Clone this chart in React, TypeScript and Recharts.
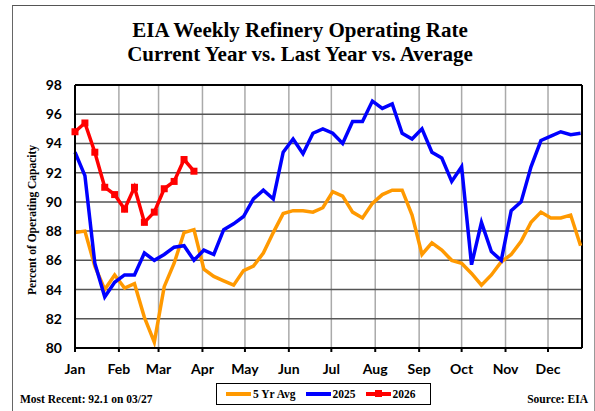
import React from 'react';
import {
  LineChart,
  Line,
  XAxis,
  YAxis,
  CartesianGrid,
  ReferenceLine
} from 'recharts';

// weekly values, week 1 starts at day 0
const avg5 = [
  87.9, 88.0, 85.6, 84.0, 85.0, 84.1, 84.4, 82.1, 80.4, 84.2,
  85.8, 87.9, 88.1, 85.4, 84.9, 84.6, 84.3, 85.3, 85.6, 86.5,
  87.9, 89.2, 89.4, 89.4, 89.3, 89.6, 90.7, 90.4, 89.3, 88.9,
  89.9, 90.5, 90.8, 90.8, 89.1, 86.4, 87.2, 86.7, 86.0, 85.8,
  85.1, 84.3, 85.0, 85.9, 86.4, 87.3, 88.6, 89.3, 88.9, 88.9,
  89.1, 87.0
];
const y2025 = [
  93.4, 91.8, 85.8, 83.5, 84.5, 85.0, 85.0, 86.5, 86.0, 86.4,
  86.9, 87.0, 86.0, 86.7, 86.4, 88.1, 88.5, 89.0, 90.2, 90.8,
  90.2, 93.4, 94.3, 93.3, 94.7, 95.0, 94.7, 94.0, 95.5, 95.5,
  96.9, 96.4, 96.7, 94.7, 94.3, 95.0, 93.4, 93.0, 91.4, 92.4,
  85.7, 88.6, 86.6, 86.0, 89.4, 90.0, 92.4, 94.2, 94.5, 94.8,
  94.6, 94.7
];
const y2026 = [94.8, 95.4, 93.4, 91.0, 90.5, 89.5, 91.0, 88.6, 89.3, 90.9, 91.4, 92.9, 92.1];

const months = ['Jan', 'Feb', 'Mar', 'Apr', 'May', 'Jun', 'Jul', 'Aug', 'Sep', 'Oct', 'Nov', 'Dec'];
const monthStarts = [0, 31, 59, 90, 120, 151, 181, 212, 243, 273, 304, 334];
const yTicks = [80, 82, 84, 86, 88, 90, 92, 94, 96, 98];

const data = avg5.map((v, i) => ({
  day: i * 7,
  avg: v,
  y2025: y2025[i],
  y2026: i < y2026.length ? y2026[i] : null
}));

const serif = '"Liberation Serif", "Times New Roman", serif';
const sans = 'Lato, "Open Sans", sans-serif';

const SquareDot = (props: any) => {
  const { cx, cy, index } = props;
  if (cx == null || cy == null) return <g key={index} />;
  return <rect key={index} x={cx - 3.5} y={cy - 3.5} width={7} height={7} fill="#FF0000" />;
};

const monthLabel = (v: number) => months[monthStarts.indexOf(v)] ?? '';

export default function App() {
  return (
    <div style={{ position: 'absolute', left: 0, top: 0, width: 595, height: 411, background: '#fff', overflow: 'hidden' }}>
      <div style={{ position: 'absolute', left: 12, top: 5, width: 581, height: 420, borderLeft: '1.5px solid #666', borderTop: '1.5px solid #555', borderRight: '1px solid #999' }} />
      <div style={{ position: 'absolute', left: 0, top: 18, width: 600, textAlign: 'center', fontFamily: serif, fontWeight: 'bold', fontSize: 21, lineHeight: '24px', color: '#000' }}>
        EIA Weekly Refinery Operating Rate<br />Current Year vs. Last Year vs. Average
      </div>
      <div style={{ position: 'absolute', left: 32, top: 220, width: 0, height: 0 }}>
        <div style={{ position: 'absolute', left: -100, top: -7, width: 200, textAlign: 'center', transform: 'rotate(-90deg)', fontFamily: serif, fontWeight: 'bold', fontSize: 11.5, lineHeight: '14px', whiteSpace: 'nowrap' }}>
          Percent of Operating Capacity
        </div>
      </div>
      <LineChart width={595} height={411} data={data} margin={{ top: 85, right: 13, bottom: 33, left: 0 }}>
        <CartesianGrid vertical={true} horizontal={false} stroke="#aaaaaa" strokeWidth={1.5} />
        <CartesianGrid vertical={false} horizontal={true} stroke="#555555" strokeWidth={1.5} />
        <XAxis
          dataKey="day"
          type="number"
          domain={[0, 358]}
          ticks={monthStarts}
          tickFormatter={monthLabel}
          interval={0}
          height={30}
          axisLine={{ stroke: '#000', strokeWidth: 2 }}
          tickLine={{ stroke: '#000', strokeWidth: 2 }}
          tickSize={4}
          tickMargin={12}
          tick={{ fill: '#000', fontSize: 14, fontWeight: 'bold', fontFamily: sans }}
        />
        <YAxis
          type="number"
          domain={[80, 98]}
          ticks={yTicks}
          interval={0}
          width={75}
          axisLine={{ stroke: '#000', strokeWidth: 2 }}
          tickLine={false}
          tickSize={0}
          tickMargin={13}
          tick={{ fill: '#000', fontSize: 14, fontWeight: 'bold', fontFamily: sans }}
        />
        <ReferenceLine y={98} stroke="#000" strokeWidth={2} />
        <ReferenceLine x={358} stroke="#000" strokeWidth={2} />
        <Line type="linear" dataKey="avg" name="5 Yr Avg" stroke="#FF9900" strokeWidth={3.5} dot={false} isAnimationActive={false} />
        <Line type="linear" dataKey="y2025" name="2025" stroke="#0000FF" strokeWidth={3.5} dot={false} isAnimationActive={false} />
        <Line type="linear" dataKey="y2026" name="2026" stroke="#FF0000" strokeWidth={3.5} dot={<SquareDot />} isAnimationActive={false} />
      </LineChart>
      <div style={{ position: 'absolute', left: 216, top: 383, width: 215, height: 22, border: '1px solid #000', boxSizing: 'border-box', display: 'flex', alignItems: 'center', fontFamily: serif, fontWeight: 'bold', fontSize: 11.5 }}>
        <span style={{ display: 'inline-block', width: 25, height: 4, background: '#FF9900', marginLeft: 9 }} />
        <span style={{ marginLeft: 2 }}>5 Yr Avg</span>
        <span style={{ display: 'inline-block', width: 25, height: 4, background: '#0000FF', marginLeft: 10 }} />
        <span style={{ marginLeft: 2 }}>2025</span>
        <span style={{ position: 'relative', display: 'inline-block', width: 25, height: 4, background: '#FF0000', marginLeft: 10 }}>
          <span style={{ position: 'absolute', left: 9, top: -2, width: 7, height: 7, background: '#FF0000' }} />
        </span>
        <span style={{ marginLeft: 2 }}>2026</span>
      </div>
      <div style={{ position: 'absolute', left: 20, top: 393, fontFamily: serif, fontWeight: 'bold', fontSize: 11.5, whiteSpace: 'nowrap' }}>
        Most Recent: 92.1 on 03/27
      </div>
      <div style={{ position: 'absolute', right: 7, top: 393, fontFamily: serif, fontWeight: 'bold', fontSize: 11.5, whiteSpace: 'nowrap' }}>
        Source: EIA
      </div>
    </div>
  );
}
